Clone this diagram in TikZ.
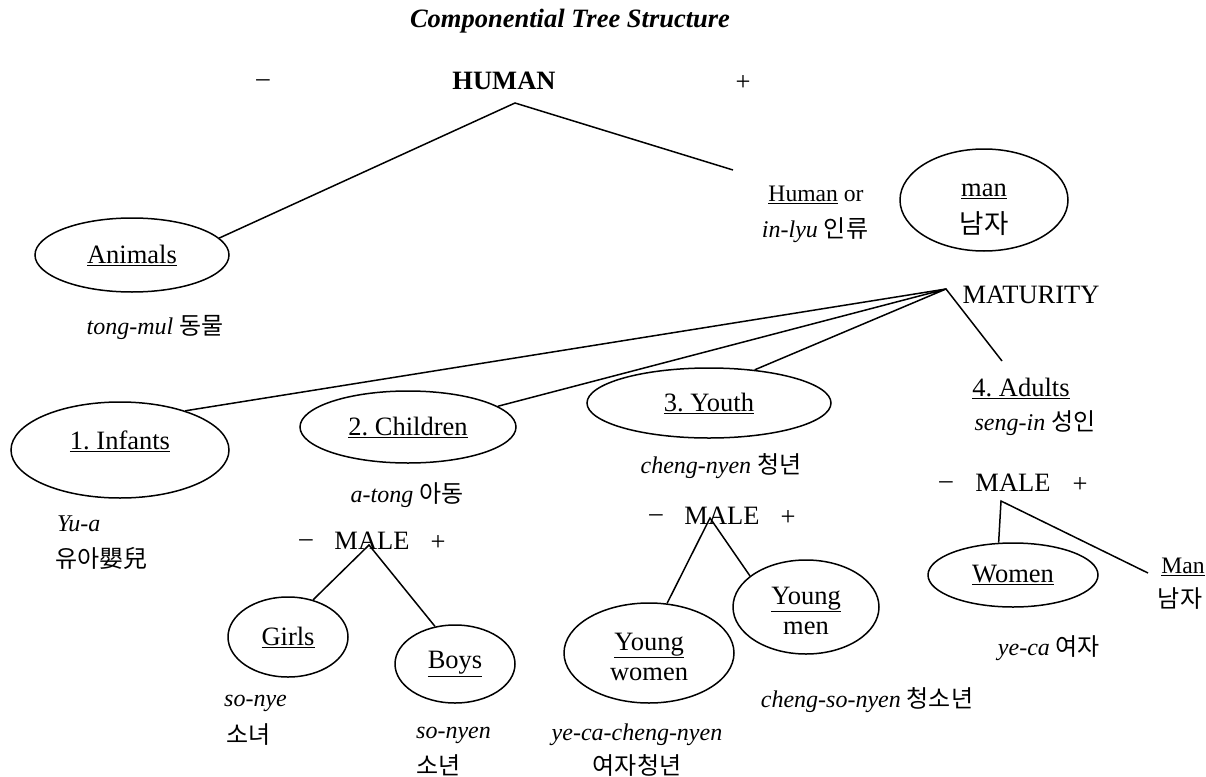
\documentclass[tikz,border=0pt]{standalone}
\usepackage{fontspec}
\setmainfont{Liberation Serif}
\newfontfamily\kr{Noto Sans CJK KR}
\usetikzlibrary{shapes.geometric}
\newcommand{\undl}[1]{\underline{#1}}
\frenchspacing

\begin{document}
\begin{tikzpicture}[x=1pt,y=-1pt,
  oval/.style={draw, ellipse, line width=1.5pt, inner sep=0pt, align=center, font=\fontsize{26.5}{30}\selectfont},
  branch/.style={line width=1.5pt},
  lbl/.style={inner sep=0pt, font=\fontsize{26.5}{30}\selectfont},
  small/.style={inner sep=0pt, font=\fontsize{23.6}{28}\selectfont},
  hangul/.style={inner sep=0pt, font=\fontsize{24}{28}\selectfont\kr},
  gloss/.style={inner sep=0pt, font=\fontsize{24}{28}\selectfont\itshape}]
\useasboundingbox (0,0) rectangle (1206,776);
% title
\node[lbl, font=\fontsize{26.5}{30}\selectfont\bfseries\itshape] (title) at (570,21) {Componential Tree Structure};
% human
\node[lbl] (hminus) at (263,83) {--};
\node[lbl, font=\fontsize{26.5}{30}\selectfont\bfseries] (human) at (504,81) {HUMAN};
\node[lbl] (hplus) at (743,83) {+};
\coordinate (hapex) at (515,103);
\coordinate (hend) at (733,170);
\node[oval, minimum width=194pt, minimum height=74pt] (animals) at (132,255) {\undl{Animals}};
\node[gloss] (tongmul) at (155,327) {tong-mul {\kr\upshape 동물}};
\node[small] (humanor) at (816,195) {\undl{Human} or};
\node[gloss] (inlyu) at (815,230) {in-lyu {\kr\upshape 인류}};
\node[oval, minimum width=168pt, minimum height=102pt,
  label={[lbl, align=center, yshift=-10pt]center:{\undl{man}\\[7pt]{\kr 남자}}}] (man) at (984,200) {};
% maturity
\node[lbl] (maturity) at (1031,295) {MATURITY};
\coordinate (mapex) at (946,289);
\coordinate (adultstop) at (1002,361);
\node[oval, minimum width=218pt, minimum height=96pt,
  label={[lbl, yshift=9pt]center:{\undl{1. Infants}}}] (infants) at (120,450) {};
\node[gloss, anchor=west] (yua) at (57,524) {Yu-a};
\node[hangul, anchor=west] (yuakr) at (55,558) {유아嬰兒};
\node[oval, minimum width=216pt, minimum height=72pt] (children) at (408,427) {\undl{2. Children}};
\node[gloss] (atong) at (407,495) {a-tong {\kr\upshape 아동}};
\node[oval, minimum width=244pt, minimum height=70pt] (youth) at (709,403) {\undl{3. Youth}};
\node[gloss] (chengnyen) at (721,466) {cheng-nyen {\kr\upshape 청년}};
\node[lbl] (adults) at (1021,388) {\undl{4. Adults}};
\node[gloss] (sengin) at (1035,423) {seng-in {\kr\upshape 성인}};
% children: male
\node[lbl] (cminus) at (306,543) {--};
\node[lbl] (cmale) at (372,541) {MALE};
\node[lbl] (cplus) at (438,543) {+};
\coordinate (capex) at (369,545);
\node[oval, minimum width=120pt, minimum height=80pt] (girls) at (288,637) {\undl{Girls}};
\node[oval, minimum width=120pt, minimum height=78pt] (boys) at (455,664) {\undl{Boys}};
\node[gloss, anchor=west] (sonye) at (224,703) {so-nye};
\node[hangul, anchor=west] (sonyekr) at (226,735) {소녀};
\node[gloss, anchor=west] (sonyen) at (416,735) {so-nyen};
\node[hangul, anchor=west] (sonyenkr) at (416,765) {소년};
% youth: male
\node[lbl] (yminus) at (656,518) {--};
\node[lbl] (ymale) at (722,516) {MALE};
\node[lbl] (yplus) at (788,518) {+};
\coordinate (yapex) at (710,518);
\node[oval, minimum width=170pt, minimum height=100pt,
  label={[lbl, align=center, yshift=-4pt]center:{\undl{Young}\\women}}] (ywomen) at (649,653) {};
\node[oval, minimum width=146pt, minimum height=94pt,
  label={[lbl, align=center, yshift=-4pt]center:{\undl{Young}\\men}}] (ymen) at (806,607) {};
\node[gloss] (chengsonyen) at (867,700) {cheng-so-nyen {\kr\upshape 청소년}};
\node[gloss] (yecacn) at (637,735) {ye-ca-cheng-nyen};
\node[hangul] (yecacnkr) at (637,765) {여자청년};
% adults: male
\node[lbl] (aminus) at (946,485) {--};
\node[lbl] (amale) at (1013,483) {MALE};
\node[lbl] (aplus) at (1080,485) {+};
\coordinate (aapex) at (1001,501);
\coordinate (mantop) at (1148,573);
\node[oval, minimum width=170pt, minimum height=64pt] (women) at (1013,575) {\undl{Women}};
\node[small] (manb) at (1183,567) {\undl{Man}};
\node[hangul] (mankr) at (1180,599) {남자};
\node[gloss] (yeca) at (1049,648) {ye-ca {\kr\upshape 여자}};
% branches
\draw[branch] (animals.11) -- (hapex) -- (hend);
\draw[branch] (infants.31) -- (mapex) -- (adultstop);
\draw[branch] (children.13) -- (mapex) -- (youth.36);
\draw[branch] (girls.56) -- (capex) -- (boys.118);
\draw[branch] (ywomen.70) -- (yapex) -- (ymen.151);
\draw[branch] (women.114) -- (aapex) -- (mantop);
\end{tikzpicture}
\end{document}
